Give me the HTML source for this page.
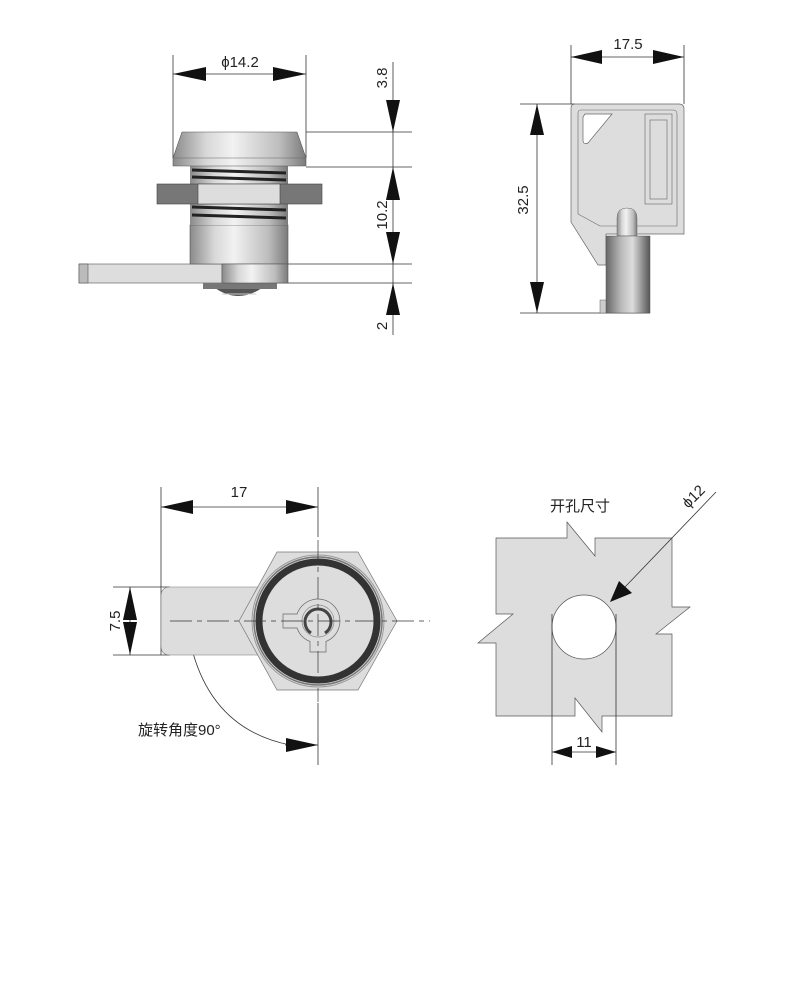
<!DOCTYPE html>
<html><head><meta charset="utf-8"><style>
html,body{margin:0;padding:0;background:#fff;}
svg{display:block;}
text{font-family:"Liberation Sans","Noto Sans CJK SC",sans-serif;fill:#222;}
</style></head><body>
<svg width="788" height="1000" viewBox="0 0 788 1000" xmlns="http://www.w3.org/2000/svg">
<defs>
<linearGradient id="cyl" x1="0" x2="1" y1="0" y2="0">
<stop offset="0" stop-color="#8a8a8a"/><stop offset="0.25" stop-color="#d8d8d8"/><stop offset="0.45" stop-color="#f2f2f2"/><stop offset="0.8" stop-color="#bdbdbd"/><stop offset="1" stop-color="#7a7a7a"/>
</linearGradient>
<linearGradient id="cyl2" x1="0" x2="1" y1="0" y2="0">
<stop offset="0" stop-color="#666"/><stop offset="0.35" stop-color="#bbb"/><stop offset="0.6" stop-color="#ddd"/><stop offset="1" stop-color="#555"/>
</linearGradient>
</defs>
<g stroke="#333" stroke-width="0.8" fill="none">
<line x1="173" y1="55" x2="173" y2="158"/><line x1="306" y1="55" x2="306" y2="158"/>
<line x1="173" y1="74" x2="306" y2="74"/>
<line x1="393" y1="62" x2="393" y2="335"/>
<line x1="306" y1="132" x2="412" y2="132"/><line x1="306" y1="167" x2="412" y2="167"/>
<line x1="288" y1="264" x2="412" y2="264"/><line x1="277" y1="283" x2="412" y2="283"/>
</g>
<g fill="#111">
<polygon points="173,74 206,67 206,81"/><polygon points="306,74 273,67 273,81"/>
<polygon points="393,132 386,100 400,100"/>
<polygon points="393,167 386,200 400,200"/><polygon points="393,264 386,232 400,232"/>
<polygon points="393,283 386,315 400,315"/>
</g>
<text x="240" y="67" font-size="15" text-anchor="middle">ϕ14.2</text>
<text font-size="15" text-anchor="middle" transform="translate(387,78) rotate(-90)">3.8</text>
<text font-size="15" text-anchor="middle" transform="translate(387,215) rotate(-90)">10.2</text>
<text font-size="15" text-anchor="middle" transform="translate(387,326) rotate(-90)">2</text>
<rect x="79" y="264" width="143" height="19" fill="#ddd" stroke="#555" stroke-width="0.6"/>
<rect x="79" y="264" width="9" height="19" fill="#bbb" stroke="#555" stroke-width="0.6"/>
<path d="M215,288 Q238,304 262,288 Z" fill="#555"/>
<line x1="222" y1="294" x2="256" y2="294" stroke="#ccc" stroke-width="1"/>
<rect x="203" y="283" width="74" height="6" fill="#777"/>
<rect x="190" y="225" width="98" height="39" fill="url(#cyl)" stroke="#555" stroke-width="0.6"/>
<rect x="222" y="264" width="66" height="19" fill="url(#cyl)" stroke="#555" stroke-width="0.6"/>
<rect x="190" y="166" width="98" height="59" fill="url(#cyl)"/>
<g stroke="#222" stroke-width="3">
<line x1="192" y1="170" x2="286" y2="173"/><line x1="192" y1="177" x2="286" y2="180"/>
<line x1="192" y1="207" x2="286" y2="210"/><line x1="192" y1="215" x2="286" y2="218"/>
</g>
<rect x="157" y="184" width="165" height="20" fill="#777" stroke="#444" stroke-width="0.6"/>
<rect x="198" y="184" width="82" height="20" fill="#ddd" stroke="#444" stroke-width="0.6"/>
<path d="M182,132 L297,132 L306,158 L306,166 L173,166 L173,158 Z" fill="url(#cyl)" stroke="#555" stroke-width="0.6"/>
<line x1="173" y1="158" x2="306" y2="158" stroke="#666" stroke-width="0.6"/>
<g stroke="#333" stroke-width="0.8" fill="none">
<line x1="571" y1="45" x2="571" y2="104"/><line x1="684" y1="45" x2="684" y2="104"/>
<line x1="571" y1="57" x2="684" y2="57"/>
<line x1="537" y1="104" x2="537" y2="313"/>
<line x1="520" y1="104" x2="575" y2="104"/><line x1="520" y1="313" x2="650" y2="313"/>
</g>
<g fill="#111">
<polygon points="571,57 602,50 602,64"/><polygon points="684,57 653,50 653,64"/>
<polygon points="537,104 530,135 544,135"/><polygon points="537,313 530,282 544,282"/>
</g>
<text x="628" y="49" font-size="15" text-anchor="middle">17.5</text>
<text font-size="15" text-anchor="middle" transform="translate(528,200) rotate(-90)">32.5</text>
<path d="M575,104 L679,104 Q684,104 684,109 L684,234 L606,234 L606,265 L598,265 L571,222 L571,108 Q571,104 575,104 Z" fill="#ddd" stroke="#666" stroke-width="0.7"/>
<path d="M581,110 L673,110 Q677,110 677,114 L677,226 L600,226 L578,214 L578,113 Q578,110 581,110 Z" fill="none" stroke="#666" stroke-width="0.6"/>
<path d="M585,114 L612,114 L588,143 Q583,145 583,140 L583,117 Z" fill="#fff" stroke="#666" stroke-width="0.7"/>
<rect x="645" y="114" width="27" height="90" fill="none" stroke="#666" stroke-width="0.6"/>
<rect x="650" y="120" width="17" height="79" fill="none" stroke="#666" stroke-width="0.6"/>
<rect x="600" y="300" width="7" height="13" fill="#ccc" stroke="#666" stroke-width="0.5"/>
<path d="M617,236 L617,218 Q617,208 627,208 Q637,208 637,218 L637,236 Z" fill="url(#cyl)" stroke="#666" stroke-width="0.5"/>
<rect x="606" y="236" width="44" height="77" fill="url(#cyl2)" stroke="#555" stroke-width="0.5"/>
<g stroke="#333" stroke-width="0.8" fill="none">
<line x1="161" y1="487" x2="161" y2="655"/><line x1="318" y1="487" x2="318" y2="537"/>
<line x1="318" y1="703" x2="318" y2="765"/>
<line x1="161" y1="507" x2="318" y2="507"/>
<line x1="113" y1="587" x2="170" y2="587"/><line x1="113" y1="655" x2="170" y2="655"/>
<line x1="130" y1="587" x2="130" y2="655"/>
<path d="M193,653 Q215,730 290,745"/>
<line x1="285" y1="745" x2="318" y2="745"/>
</g>
<g fill="#111">
<polygon points="161,507 193,500 193,514"/><polygon points="318,507 286,500 286,514"/>
<polygon points="130,587 123,620 137,620"/><polygon points="130,655 123,622 137,622"/>
<polygon points="190,620 183,653 197,653"/><polygon points="318,745 286,738 286,752"/>
</g>
<text x="239" y="497" font-size="15" text-anchor="middle">17</text>
<text font-size="15" text-anchor="middle" transform="translate(120,621) rotate(-90)">7.5</text>
<text x="138" y="735" font-size="15">旋转角度90°</text>
<path d="M170,587 L262,587 L262,655 L170,655 Q161,655 161,646 L161,596 Q161,587 170,587 Z" fill="#ddd" stroke="#777" stroke-width="0.6"/>
<polygon points="277,552 358,552 397,621 358,690 277,690 239,621" fill="#ddd" stroke="#777" stroke-width="0.7"/>
<circle cx="318" cy="621" r="66" fill="none" stroke="#999" stroke-width="1"/>
<circle cx="318" cy="621" r="59" fill="none" stroke="#333" stroke-width="7"/>
<circle cx="318" cy="621" r="64" fill="none" stroke="#777" stroke-width="1.5"/>
<path d="M297.1,614 L283,614 L283,628 L297.1,628 A22,22 0 0 0 310,641.5 L310,652 L326,652 L326,641.5 A22,22 0 1 0 297.1,614 Z" fill="#ddd" stroke="#666" stroke-width="0.7"/>
<circle cx="318" cy="621" r="16" fill="none" stroke="#888" stroke-width="0.7"/>
<path d="M311,633 A13,13 0 1 1 325,633" fill="none" stroke="#444" stroke-width="3"/>
<g stroke="#333" stroke-width="0.7" stroke-dasharray="22,5,5,5">
<line x1="170" y1="621" x2="430" y2="621"/><line x1="318" y1="540" x2="318" y2="702"/>
</g>
<polygon points="496,538 567,538 567,522 595,556 595,538 672,538 672,607 690,607 656,634 672,634 672,716 602,716 602,732 575,698 575,716 496,716 496,643 478,643 513,614 496,614" fill="#ddd" stroke="#555" stroke-width="0.7"/>
<circle cx="584" cy="627" r="32" fill="#fff" stroke="#555" stroke-width="0.7"/>
<g stroke="#333" stroke-width="0.8" fill="none">
<line x1="552" y1="614" x2="552" y2="765"/><line x1="616" y1="614" x2="616" y2="765"/>
<line x1="552" y1="752" x2="616" y2="752"/>
<line x1="716" y1="492" x2="625" y2="587"/>
</g>
<g fill="#111">
<polygon points="552,752 572,746 572,758"/><polygon points="616,752 596,746 596,758"/>
<polygon points="610,602 619,581 632,593"/>
</g>
<text x="584" y="747" font-size="15" text-anchor="middle">11</text>
<text x="580" y="511" font-size="15" text-anchor="middle">开孔尺寸</text>
<text font-size="15" text-anchor="middle" transform="translate(697,500) rotate(-45)">ϕ12</text>
</svg>
</body></html>
